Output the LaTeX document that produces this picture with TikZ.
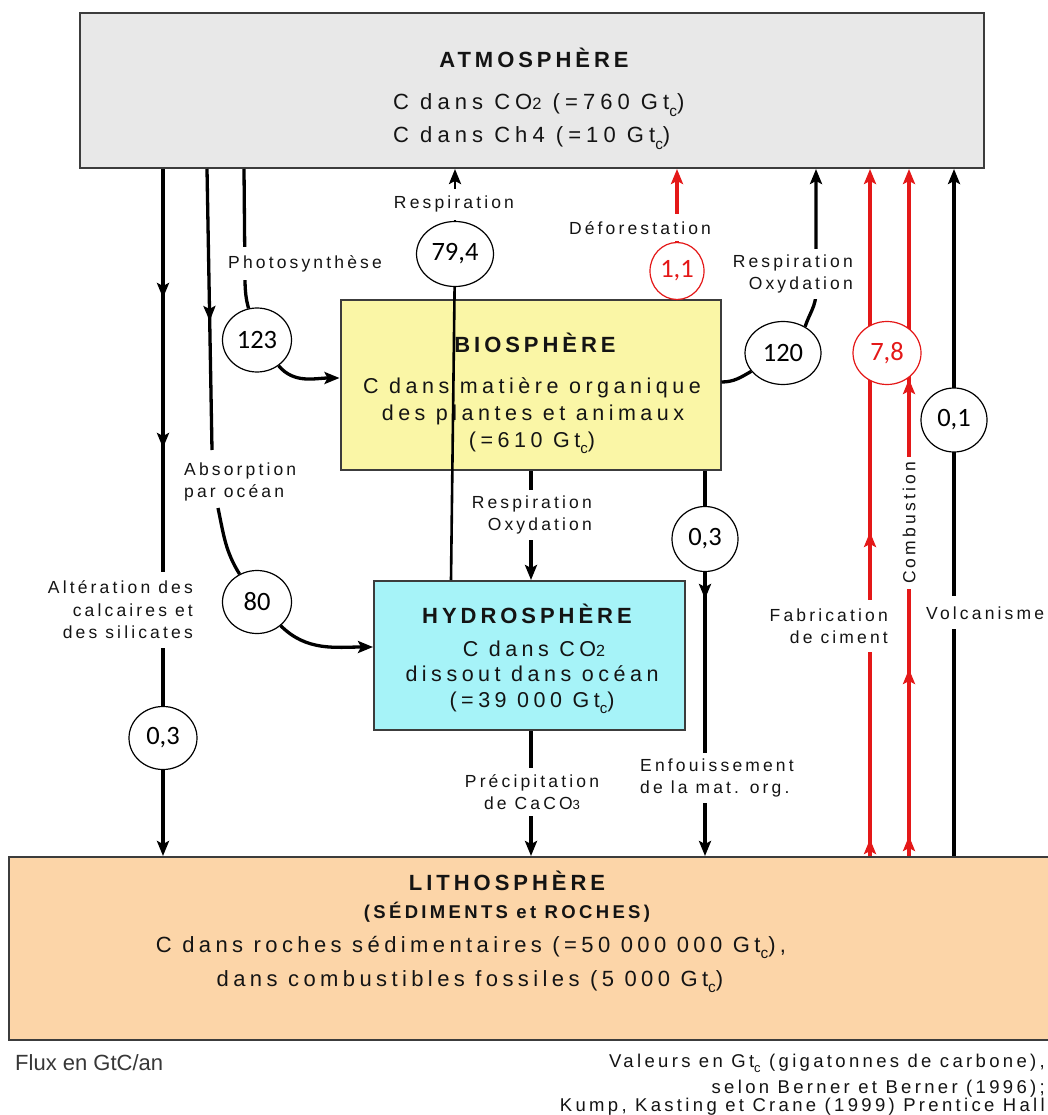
\documentclass[tikz,border=0pt]{standalone}
\usepackage{graphicx}
\usepackage{fontspec}
\setmainfont{Liberation Sans}
\newfontfamily\trk{Liberation Sans}[LetterSpace=18]
\newfontfamily\numf{Carlito}
\usetikzlibrary{arrows.meta,shapes.geometric,decorations.markings}
\definecolor{atmgray}{RGB}{232,232,232}
\definecolor{bioyel}{RGB}{250,246,166}
\definecolor{hydcyan}{RGB}{166,243,248}
\definecolor{litpeach}{RGB}{252,213,168}
\definecolor{fred}{RGB}{228,24,24}
\definecolor{edge}{RGB}{60,60,60}
\definecolor{ink}{RGB}{20,20,20}
\newcommand{\gsub}[1]{\raisebox{-0.28em}{\scalebox{0.7}{#1}}}
\newcommand{\tsz}[2]{\fontsize{#1}{#2}\selectfont}
\pgfdeclarelayer{boxes}
\pgfdeclarelayer{lines}
\pgfsetlayers{boxes,lines,main}
\begin{document}
\begin{tikzpicture}[x=1pt,y=1pt,
  >={Stealth[length=15pt,width=12pt,inset=3pt]},
  box/.style={draw=edge,line width=2pt,inner sep=0pt},
  ttl/.style={font=\trk\bfseries\tsz{22}{26},inner sep=0pt,anchor=base,text=ink},
  btxt/.style={font=\trk\addfontfeature{LetterSpace=21}\tsz{21.5}{26},inner sep=0pt,anchor=base,text=ink},
  atxt/.style={font=\trk\addfontfeature{LetterSpace=23}\tsz{22}{26},inner sep=0pt,anchor=base west,text=ink},
  ltxt/.style={font=\trk\addfontfeature{LetterSpace=20}\tsz{22}{26},inner sep=0pt,anchor=base,text=ink},
  ftxt/.style={font=\trk\tsz{18.5}{22},anchor=base east,inner sep=0pt,text=ink},
  lab/.style={font=\trk\tsz{17.5}{22.5},fill=white,inner xsep=2pt,inner ysep=6pt,text=ink},
  num/.style={ellipse,draw,line width=1.2pt,fill=white,inner sep=0pt,font=\numf\tsz{26.5}{30}},
  flow/.style={line width=3.3pt},
  arrat/.style={postaction={decorate,decoration={markings,mark=at position #1 with {\arrow{>}}}}}
]
\useasboundingbox (0,0) rectangle (1047,-1115);

% ---------- reference x positions ----------
\coordinate (xA) at (163,0);
\coordinate (xB) at (207,0);
\coordinate (xC) at (244,0);
\coordinate (x451) at (451,0);
\coordinate (x531) at (531,0);
\coordinate (x870) at (870,0);
\coordinate (x909) at (909,0);
\coordinate (y378) at (0,-378);
\coordinate (y382) at (0,-382);
\coordinate (y647) at (0,-647);
\coordinate (absEnd) at (212,-450);
\coordinate (absStart) at (218,-508);
\coordinate (phoMid) at (245,-282);
\coordinate (r817) at (816,-292);

% ---------- flux circles ----------
\node[num,minimum width=69pt,minimum height=64pt] (c123) at (257,-340) {123};
\node[num,minimum width=77pt,minimum height=65pt] (c794) at (455,-254) {79,4};
\node[num,minimum width=54pt,minimum height=57pt,draw=fred,text=fred] (c11) at (677,-271) {1,1};
\node[num,minimum width=76pt,minimum height=63pt] (c120) at (783,-353) {120};
\node[num,minimum width=68pt,minimum height=63pt,draw=fred,text=fred] (c78) at (887,-353) {7,8};
\node[num,minimum width=66pt,minimum height=64pt] (c01) at (954,-420) {0,1};
\node[num,minimum width=69pt,minimum height=63pt] (c80) at (257,-602) {80};
\node[num,minimum width=68pt,minimum height=63pt] (c03a) at (163,-738) {0,3};
\node[num,minimum width=66pt,minimum height=65pt] (c03b) at (705,-539) {0,3};

% ---------- labels ----------
\node[lab,anchor=base,inner ysep=7pt] (lResp) at (454,-209) {Respiration};
\node[lab,anchor=base,inner ysep=7pt] (lDefo) at (640,-234) {Déforestation};
\node[lab,anchor=base,inner ysep=8pt] (lPhot) at (305,-268) {Photosynthèse};
\node[lab,align=right,anchor=east] (lRO1) at (855,-274) {Respiration\\Oxydation};
\node[lab,align=left,anchor=west] (lAbs) at (182,-482) {Absorption\\par océan};
\node[lab,align=right,anchor=east] (lRO2) at (594,-515) {Respiration\\Oxydation};
\node[lab,align=right,anchor=east,inner ysep=9pt] (lAlt) at (195,-610) {Altération des\\calcaires et\\des silicates};
\node[lab,align=right,anchor=east,inner ysep=8pt] (lFab) at (890,-626) {Fabrication\\de ciment};
\node[lab,anchor=base west,inner ysep=10pt] (lVol) at (924,-619) {Volcanisme};
\node[lab,align=center] (lPre) at (532,-792) {Précipitation\\de CaCO\scalebox{0.75}{3}};
\node[lab,align=left,anchor=west] (lEnf) at (638,-778) {Enfouissement\\de la mat. org.};
\node[lab,rotate=90,inner xsep=5pt,inner ysep=2pt] (lComb) at (909,-523) {Combustion};

% ---------- footer ----------
\node[font=\tsz{22}{25},anchor=base west,inner sep=0pt,text=ink!85] (fFlux) at (15,-1070) {Flux en GtC/an};
\node[ftxt] (fVal) at (1045,-1067) {Valeurs en Gt\gsub{c} (gigatonnes de carbone),};
\node[ftxt] (fSel) at (1045,-1093) {selon Berner et Berner (1996);};
\node[ftxt] (fKum) at (1045,-1111) {Kump, Kasting et Crane (1999) Prentice Hall};

% ---------- reservoirs ----------
\begin{pgfonlayer}{boxes}
\fill[white] (0,0) rectangle (1047,-1115);
\node[box,fill=atmgray,minimum width=904pt,minimum height=155pt] (atm) at (532,-90.5) {};
\node[box,fill=bioyel,minimum width=380pt,minimum height=170pt] (bio) at (530.5,-385) {};
\node[box,fill=hydcyan,minimum width=311pt,minimum height=149pt] (hyd) at (529.5,-655.5) {};
\node[box,fill=litpeach,minimum width=1060pt,minimum height=183pt] (lit) at (539,-948.5) {};

\node[ttl] (atmT) at (534,-68) {ATMOSPHÈRE};
\node[atxt] (atm1) at (393,-110) {C dans CO\scalebox{0.75}{2} (=760 Gt\gsub{c})};
\node[atxt] (atm2) at (393,-143) {C dans Ch4 (=10 Gt\gsub{c})};

\node[ttl] (bioT) at (535,-352) {BIOSPHÈRE};
\node[btxt] (bio1) at (532,-393) {C dans matière organique};
\node[btxt] (bio2) at (533,-420) {des plantes et animaux};
\node[btxt] (bio3) at (532,-447) {(=610 Gt\gsub{c})};

\node[ttl] (hydT) at (527,-623) {HYDROSPHÈRE};
\node[btxt] (hyd1) at (534,-656) {C dans CO\scalebox{0.75}{2}};
\node[btxt] (hyd2) at (532,-681) {dissout dans océan};
\node[btxt] (hyd3) at (532,-707) {(=39 000 Gt\gsub{c})};

\node[ttl] (litT) at (507,-890) {LITHOSPHÈRE};
\node[ttl,font=\trk\bfseries\tsz{18.5}{22}] (litS) at (507,-918) {(SÉDIMENTS et ROCHES)};
\node[ltxt] (lit1) at (471,-952) {C dans roches sédimentaires (=50 000 000 Gt\gsub{c}),};
\node[ltxt] (lit2) at (470,-986) {dans combustibles fossiles (5 000 Gt\gsub{c})};
\end{pgfonlayer}

% ---------- fluxes ----------
\begin{pgfonlayer}{lines}
% weathering of carbonates and silicates
\draw[flow,->,arrat=129pt,arrat=279pt] (atm.south -| xA) -- (lit.north -| xA);
% ocean absorption
\draw[flow,arrat=152pt] (atm.south -| xB) -- (absEnd);
\draw[flow] (absStart) to[out=-78,in=122] (c80);
\draw[flow,->] (c80) to[out=-45,in=180] (hyd.west |- y647);
% photosynthesis
\draw[flow] (atm.south -| xC) -- (phoMid) to[out=-88,in=105] (c123);
\draw[flow,->] (c123) to[out=-50,in=180] (bio.west |- y378);
% respiration of the ocean
\draw[line width=2.6pt] (hyd.north -| x451) -- (c794);
\draw[line width=2.6pt,->] (c794) -- (atm.south -| c794);
% deforestation
\draw[flow,color=fred,->] (bio.north -| c11) -- (atm.south -| c11);
% respiration / oxidation of the biosphere
\draw[flow] (bio.east |- y382) to[out=0,in=-150] (c120);
\draw[flow,->] (c120.50) to[out=72,in=-90] (r817) -- (atm.south -| r817);
% cement and combustion
\draw[flow,color=fred,->,arrat=17pt,arrat=324pt] (lit.north -| x870) -- (atm.south -| x870);
\draw[flow,color=fred,->,arrat=20pt,arrat=187pt,arrat=477pt] (lit.north -| x909) -- (atm.south -| x909);
% volcanism
\draw[flow,->] (lit.north -| c01) -- (atm.south -| c01);
% burial of organic matter
\draw[flow,->,arrat=128pt] (bio.south -| c03b) -- (lit.north -| c03b);
% biosphere -> hydrosphere, hydrosphere -> lithosphere
\draw[flow,->] (bio.south -| x531) -- (hyd.north -| x531);
\draw[flow,->] (hyd.south -| x531) -- (lit.north -| x531);
\end{pgfonlayer}
\end{tikzpicture}
\end{document}
